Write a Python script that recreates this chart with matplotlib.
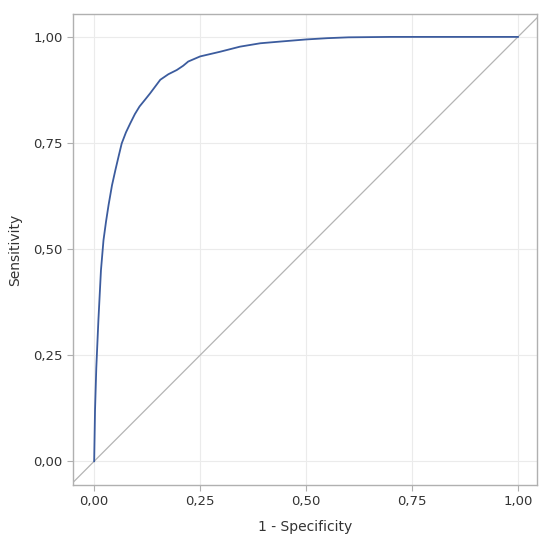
import matplotlib
matplotlib.use("Agg")
import matplotlib.pyplot as plt
from matplotlib.ticker import FuncFormatter

fpr = [0.0, 0.002, 0.005, 0.01, 0.016, 0.022, 0.028, 0.034, 0.042, 0.05, 0.058, 0.065,
       0.075, 0.085, 0.096, 0.107, 0.12, 0.132, 0.144, 0.156, 0.175, 0.195, 0.21, 0.222,
       0.25, 0.297, 0.344, 0.392, 0.439, 0.5, 0.55, 0.6, 0.7, 0.8, 0.9, 1.0]
tpr = [0.0, 0.12, 0.22, 0.333, 0.45, 0.521, 0.565, 0.604, 0.65, 0.686, 0.72, 0.749,
       0.775, 0.796, 0.818, 0.836, 0.852, 0.867, 0.883, 0.899, 0.912, 0.922, 0.932, 0.942,
       0.954, 0.965, 0.977, 0.985, 0.989, 0.994, 0.997, 0.999, 1.0, 1.0, 1.0, 1.0]

ticks = [0.0, 0.25, 0.5, 0.75, 1.0]

fig = plt.figure(figsize=(5.5, 5.38), dpi=100)
ax = fig.add_axes([0.1327, 0.0985, 0.8437, 0.8755])
ax.set_xlim(-0.05, 1.045)
ax.set_ylim(-0.056, 1.054)

ax.axline((0, 0), (1, 1), color="#b4b4b4", lw=0.9, zorder=2)
ax.plot(fpr, tpr, color="#3c5c9e", lw=1.3, zorder=3)

ax.set_xticks(ticks)
ax.set_yticks(ticks)
fmt = FuncFormatter(lambda v, p: f"{v:.2f}".replace(".", ","))
ax.xaxis.set_major_formatter(fmt)
ax.yaxis.set_major_formatter(fmt)
ax.grid(True, color="#ebebeb", lw=0.8, zorder=0)
ax.set_axisbelow(True)
for s in ax.spines.values():
    s.set_color("#b0b0b0")
    s.set_linewidth(1.0)
ax.tick_params(colors="#b0b0b0", labelcolor="#333333", labelsize=9.5, length=4, width=0.8)
ax.set_xlabel("1 - Specificity", fontsize=10, color="#333333", labelpad=8)
ax.set_ylabel("Sensitivity", fontsize=10, color="#333333", labelpad=8)

fig.savefig("out.png", dpi=100)
